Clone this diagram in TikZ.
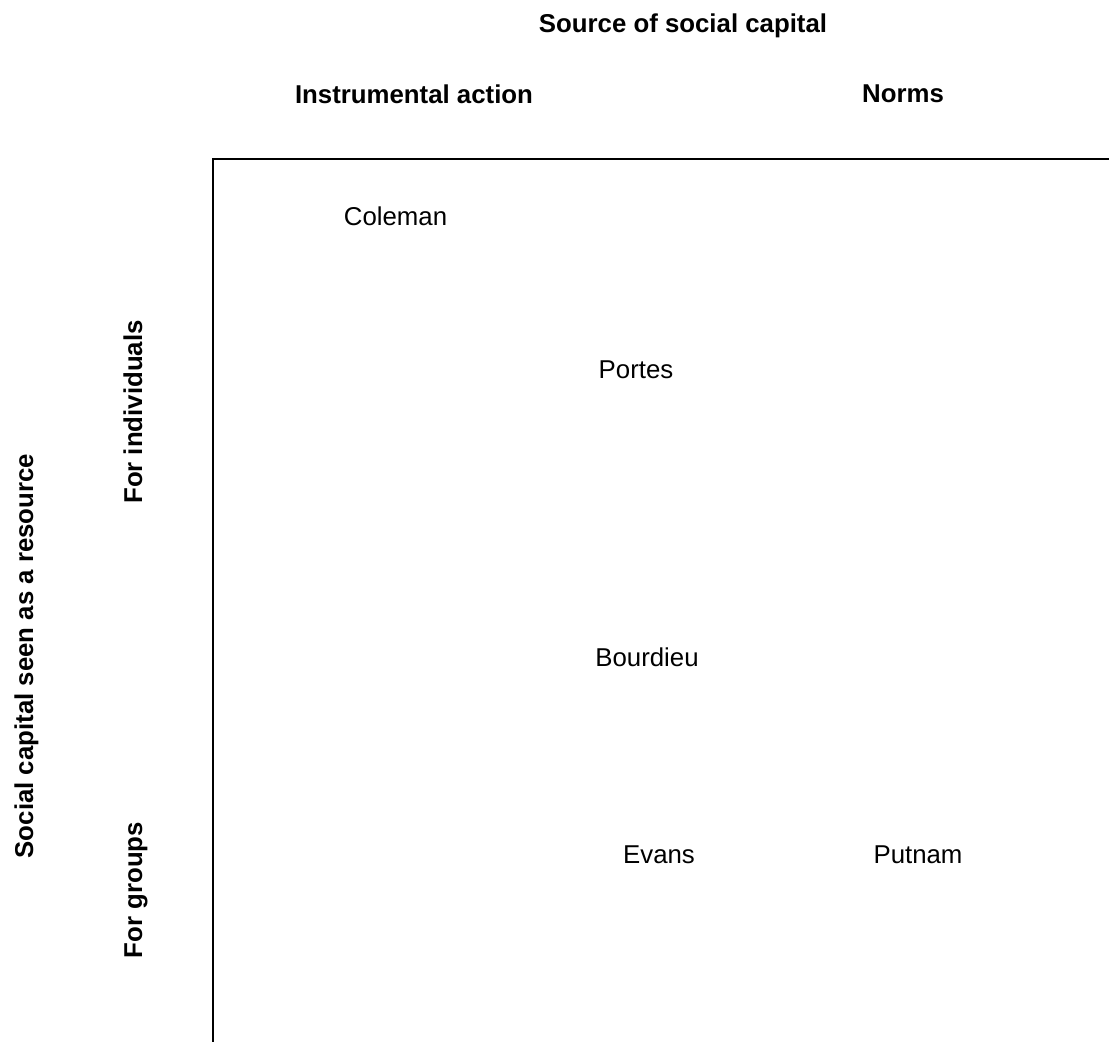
\documentclass[tikz,border=0pt]{standalone}
\usepackage{fontspec}
\setmainfont{Liberation Sans}
\begin{document}
\begin{tikzpicture}[x=1pt,y=-1pt,
  lbl/.style={font=\fontsize{25.8}{30}\selectfont, inner sep=0pt, anchor=base},
  head/.style={lbl, font=\fontsize{25.8}{30}\selectfont\bfseries},
  axis/.style={line width=2.2pt, black}]
\useasboundingbox (0,0) rectangle (1109,1042);
% axes
\coordinate (corner) at (213,158.7);
\coordinate (xend) at (1109,158.7);
\coordinate (yend) at (213,1042);
\draw[axis] (xend) -- (corner) -- (yend);
% headings
\node[head] (src) at (683,32) {Source of social capital};
\node[head] (instr) at (414,103) {Instrumental action};
\node[head] (norms) at (903,102) {Norms};
\node[head, rotate=90] (res) at (33,656) {Social capital seen as a resource};
\node[head, rotate=90] (indiv) at (142,412) {For individuals};
\node[head, rotate=90] (groups) at (142,890) {For groups};
% authors
\node[lbl] (coleman) at (395.5,225) {Coleman};
\node[lbl] (portes) at (636,378) {Portes};
\node[lbl] (bourdieu) at (647,666) {Bourdieu};
\node[lbl] (evans) at (659,863) {Evans};
\node[lbl] (putnam) at (918,863) {Putnam};
\end{tikzpicture}
\end{document}
